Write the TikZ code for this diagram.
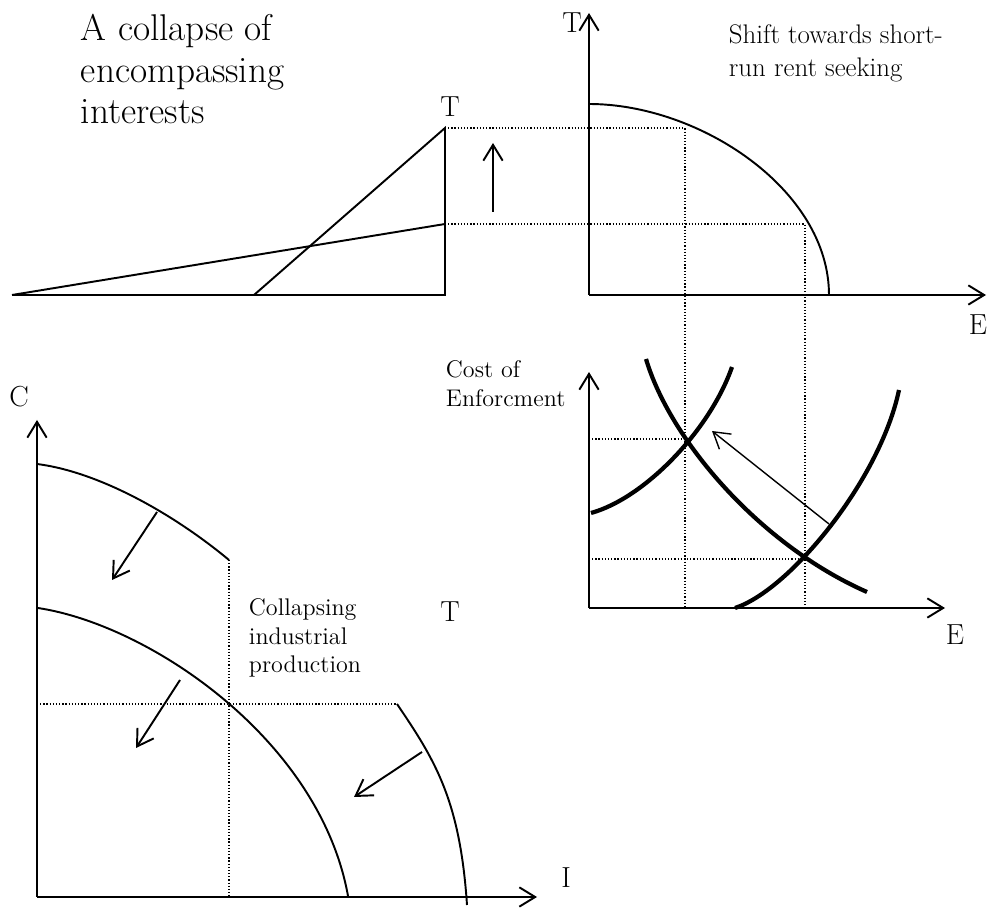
\documentclass[tikz,border=0pt]{standalone}
\usepackage{fontspec}
\usepackage{tikz}
\usetikzlibrary{arrows.meta}

\begin{document}
\begin{tikzpicture}[x=0.02cm, y=-0.02cm, line width=1.1pt,
    >={Straight Barb[length=9pt,width=11pt]},
    axis/.style={->},
    guide/.style={line width=0.7pt, dash pattern=on 0.7pt off 1.1pt},
    fat/.style={line width=2.4pt},
    lbl/.style={font=\fontsize{16.5}{20}\selectfont, inner sep=0pt},
    txt/.style={anchor=north west, inner sep=0pt, align=left},
    note/.style={txt, font=\fontsize{13.7}{16.2}\selectfont}]
    \useasboundingbox (0,0) rectangle (988,908);

    % Title
    \node[txt, font=\fontsize{21.2}{23.8}\selectfont] (title) at (80,13) {A collapse of\\encompassing\\interests};

    % Top left: the two tax lines
    \coordinate (o1) at (12,295);
    \coordinate (b1) at (445,295);
    \coordinate (k1) at (254,295);
    \coordinate (t1) at (445,128);
    \coordinate (t0) at (445,224);
    \draw (o1) -- (b1) -- (t1) -- (k1);
    \draw (o1) -- (t0);
    \node[lbl] (T1) at (450,107) {T};
    \draw[->] (493,212) -- (493,143);

    % Top right: T against E
    \coordinate (O2) at (589,295);
    \draw[axis] (O2) -- (589,13);
    \draw[axis] (O2) -- (986,295);
    \node[lbl] (T2) at (572,23) {T};
    \node[lbl] (E2) at (978,325) {E};
    \draw (589,104) .. controls (700,104) and (829,190) .. (829,295);
    \node[txt, font=\fontsize{15.3}{18.7}\selectfont] (shift) at (728,24) {Shift towards short-\\run rent seeking};

    % Guides down to the lower panel
    \draw[guide] (t1) -- (685,128) -- (685,608);
    \draw[guide] (t0) -- (805,224) -- (805,608);

    % Lower right: cost of enforcement
    \coordinate (O3) at (589,608);
    \draw[axis] (O3) -- (589,372);
    \draw[axis] (O3) -- (945,608);
    \node[lbl] (E3) at (955,635) {E};
    \node[note] (cost) at (445,360) {Cost of\\Enforcment};
    \draw[guide] (589,439) -- (685,439);
    \draw[guide] (589,559) -- (805,559);
    \draw[fat] (591,513) .. controls (645,498) and (710,430) .. (732,367);
    \draw[fat] (646,359) .. controls (670,440) and (760,545) .. (867,592);
    \draw[fat] (735,608) .. controls (790,590) and (880,480) .. (899,390);
    \draw[->, line width=0.8pt] (829,524) -- (712,431);

    % Lower left: C against I
    \coordinate (O4) at (37,897);
    \draw[axis] (O4) -- (37,420);
    \draw[axis] (O4) -- (537,897);
    \node[lbl] (C4) at (19,397) {C};
    \node[lbl] (I4) at (566,878) {I};
    \node[lbl] (T4) at (450,612) {T};
    \draw (37,464) .. controls (100,472) and (175,515) .. (229,560);
    \draw (38,608) .. controls (150,625) and (320,740) .. (348,896);
    \draw (397,704) .. controls (435,760) and (460,800) .. (467,905);
    \draw[guide] (229,560) -- (229,897);
    \draw[guide] (37,704) -- (397,704);
    \draw[->] (157,512) -- (112,580);
    \draw[->] (180,680) -- (136,748);
    \draw[->] (422,752) -- (354,797);
    \node[note] (prod) at (248,598) {Collapsing\\industrial\\production};
\end{tikzpicture}
\end{document}
